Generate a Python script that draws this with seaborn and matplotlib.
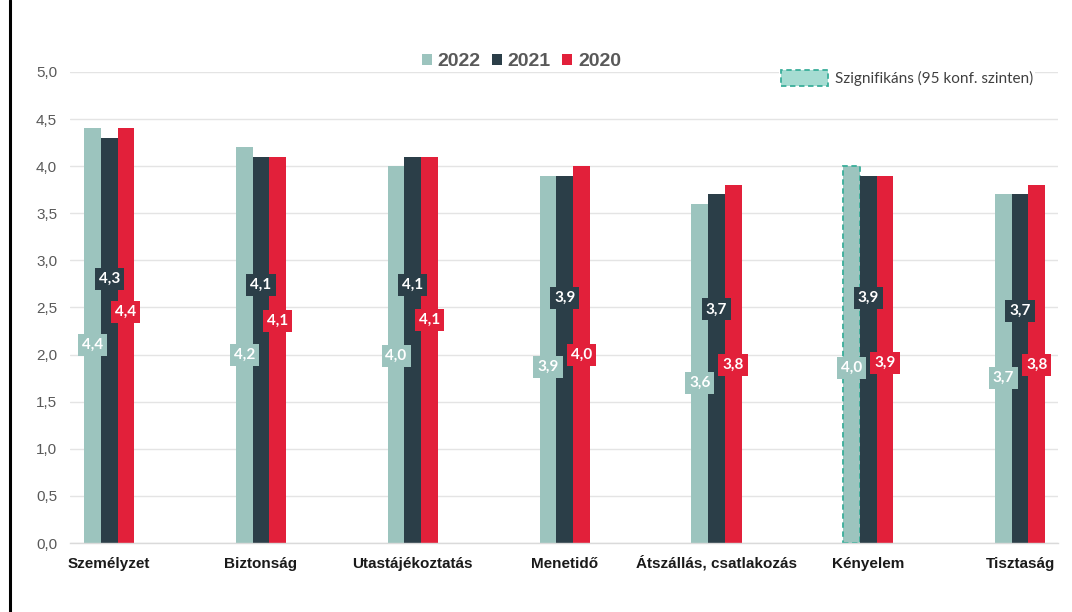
import matplotlib
matplotlib.use("Agg")
import matplotlib.pyplot as plt
import matplotlib.transforms as mtransforms
from matplotlib.patches import Patch
from matplotlib.lines import Line2D
import seaborn as sns
import pandas as pd

# data
categories = ["Személyzet", "Biztonság", "Utastájékoztatás", "Menetidő",
              "Átszállás, csatlakozás", "Kényelem", "Tisztaság"]
years = ["2022", "2021", "2020"]
v2022 = [4.4, 4.2, 4.0, 3.9, 3.6, 4.0, 3.7]
v2021 = [4.3, 4.1, 4.1, 3.9, 3.7, 3.9, 3.7]
v2020 = [4.4, 4.1, 4.1, 4.0, 3.8, 3.9, 3.8]
significant_2022 = ["Kényelem"]

# heights where the value boxes sit (manually placed in the original)
label_y_2022 = [2.10, 2.00, 1.99, 1.87, 1.70, 1.86, 1.75]
label_y_2021 = [2.80, 2.74, 2.74, 2.60, 2.48, 2.60, 2.46]
label_y_2020 = [2.45, 2.36, 2.37, 2.00, 1.89, 1.91, 1.89]

colors = {"2022": "#9CC4BE", "2021": "#2B3E48", "2020": "#E2203A"}
sig_edge = "#3AAE9A"

df = pd.DataFrame({
    "kategoria": categories * 3,
    "ev": ["2022"] * 7 + ["2021"] * 7 + ["2020"] * 7,
    "ertek": v2022 + v2021 + v2020,
})

sns.set_theme(style="white")
plt.rcParams["font.family"] = ["Liberation Sans", "DejaVu Sans"]

fig = plt.figure(figsize=(10.72, 6.12), dpi=100)
ax = fig.add_axes([0.065, 0.1127, 0.922, 0.7697])

sns.barplot(data=df, x="kategoria", y="ertek", hue="ev", hue_order=years,
            palette=colors, width=0.33, gap=0, linewidth=0, saturation=1,
            legend=False, ax=ax)

ax.set_ylim(0, 5.0)
ax.set_xlim(-0.26, 6.25)
ax.set_yticks([i * 0.5 for i in range(11)])
ax.set_yticklabels([f"{i * 0.5:.1f}".replace(".", ",") for i in range(11)],
                   fontsize=11, color="#595959")
ax.yaxis.grid(True, color="#E4E4E4", linewidth=1)
ax.set_axisbelow(True)
for s in ["top", "right", "left"]:
    ax.spines[s].set_visible(False)
ax.spines["bottom"].set_color("#DADADA")
ax.spines["bottom"].set_linewidth(1)
ax.tick_params(axis="both", length=0)
ax.tick_params(axis="y", pad=9)
ax.set_xlabel("")
ax.set_ylabel("")

# category labels on a common baseline
ax.set_xticklabels([])
trans = mtransforms.blended_transform_factory(ax.transData, ax.transAxes)
for i, cat in enumerate(categories):
    ax.text(i, -0.053, cat, transform=trans, ha="center", va="baseline",
            fontsize=11, fontweight="bold", color="#1A1A1A")

# significance marking
for i, cat in enumerate(categories):
    if cat in significant_2022:
        bar = ax.containers[0][i]
        bar.set_edgecolor(sig_edge)
        bar.set_linestyle((0, (3, 2)))
        bar.set_linewidth(1.3)

# value boxes
label_ys = [label_y_2022, label_y_2021, label_y_2020]
vals = [v2022, v2021, v2020]
for k, yr in enumerate(years):
    for i, bar in enumerate(ax.containers[k]):
        xc = bar.get_x() + bar.get_width() / 2
        ax.text(xc, label_ys[k][i], f"{vals[k][i]:.1f}".replace(".", ","),
                ha="center", va="center", color="white", fontsize=11,
                fontweight="bold", family=["Lato", "DejaVu Sans"],
                bbox=dict(boxstyle="square,pad=0.26", facecolor=colors[yr],
                          edgecolor="none"), zorder=5)

# year legend
handles = [Patch(facecolor=colors[y], edgecolor="none", label=y) for y in years]
leg1 = ax.legend(handles=handles, loc="center", bbox_to_anchor=(0.457, 1.022),
                 ncol=3, frameon=False, handlelength=0.5, handleheight=0.5,
                 handletextpad=0.3, columnspacing=0.6,
                 prop={"weight": "bold", "size": 14})
for t in leg1.get_texts():
    t.set_color("#595959")
ax.add_artist(leg1)

# significance legend
sig_handle = Patch(facecolor="#A6DCD2", edgecolor=sig_edge, linestyle=(0, (3, 2)),
                   linewidth=1.3, label="Szignifikáns (95 konf. szinten)")
leg2 = ax.legend(handles=[sig_handle], loc="center right",
                 bbox_to_anchor=(0.984, 0.987), frameon=True, facecolor="white",
                 edgecolor="none", framealpha=1, fancybox=False,
                 handlelength=3.1, handleheight=1.3, handletextpad=0.45,
                 borderpad=0.1, prop={"family": ["Lato", "DejaVu Sans"], "size": 11})
for t in leg2.get_texts():
    t.set_color("#404040")

# black border line on the left
fig.add_artist(Line2D([10 / 1072, 10 / 1072], [0, 1], color="black",
                      linewidth=2.2, transform=fig.transFigure))

fig.savefig("out.png", dpi=100)
